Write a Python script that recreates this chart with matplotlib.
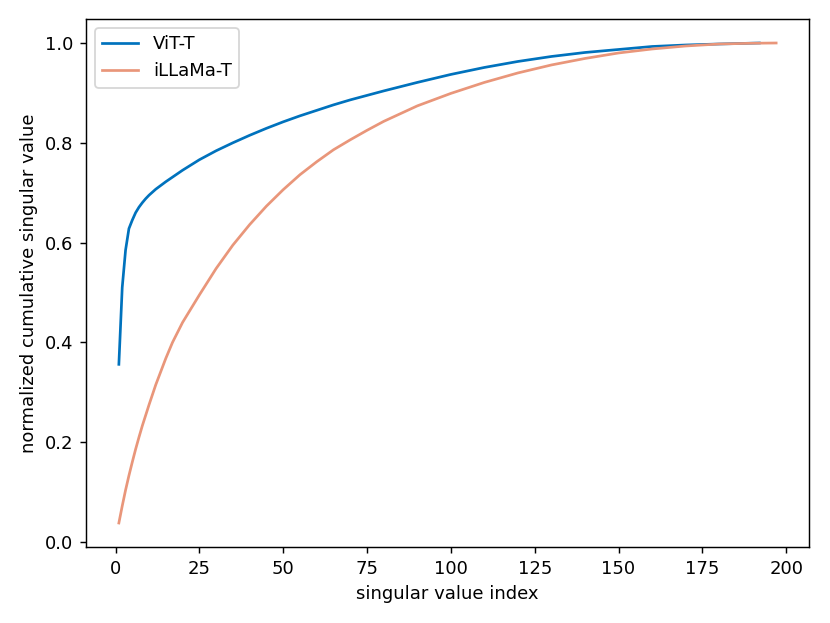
import matplotlib
matplotlib.use("Agg")
import matplotlib.pyplot as plt

# values
vit_idx = [1, 2, 3, 4, 5, 6, 7, 8, 9, 10, 12, 15, 20, 25, 30, 35, 40, 45, 50, 55,
           60, 65, 70, 75, 80, 90, 100, 110, 120, 130, 140, 150, 160, 170, 180, 192]
vit_val = [0.356, 0.51, 0.585, 0.628, 0.645, 0.660, 0.671, 0.680, 0.688, 0.695,
           0.707, 0.722, 0.745, 0.766, 0.784, 0.800, 0.815, 0.829, 0.842, 0.854,
           0.865, 0.876, 0.886, 0.895, 0.904, 0.921, 0.937, 0.951, 0.963, 0.973,
           0.981, 0.987, 0.993, 0.996, 0.998, 1.0]

illama_idx = [1, 2, 3, 4, 5, 6, 7, 8, 9, 10, 12, 15, 17, 20, 25, 30, 35, 40, 45,
              50, 55, 60, 65, 70, 75, 80, 90, 100, 110, 120, 130, 140, 150, 160,
              170, 180, 190, 197]
illama_val = [0.038, 0.072, 0.104, 0.133, 0.160, 0.186, 0.210, 0.233, 0.254,
              0.275, 0.315, 0.368, 0.400, 0.440, 0.495, 0.548, 0.595, 0.636,
              0.673, 0.706, 0.736, 0.762, 0.786, 0.806, 0.825, 0.843, 0.874,
              0.899, 0.921, 0.940, 0.956, 0.969, 0.980, 0.988, 0.994, 0.998,
              0.9995, 1.0]

labels = ["ViT-T", "iLLaMa-T"]


def main():
    fig, ax = plt.subplots(figsize=(830 / 130, 623 / 130), dpi=130)
    fig.subplots_adjust(left=86 / 830, right=809 / 830, top=1 - 19 / 623, bottom=1 - 547 / 623)
    ax.plot(vit_idx, vit_val, color="#0072BD", lw=1.5, label=labels[0])
    ax.plot(illama_idx, illama_val, color="#E9967A", lw=1.5, label=labels[1])
    ax.set_xlabel("singular value index")
    ax.set_ylabel("normalized cumulative singular value")
    ax.legend(loc="upper left")
    fig.savefig("out.png", dpi=130)


if __name__ == "__main__":
    main()
